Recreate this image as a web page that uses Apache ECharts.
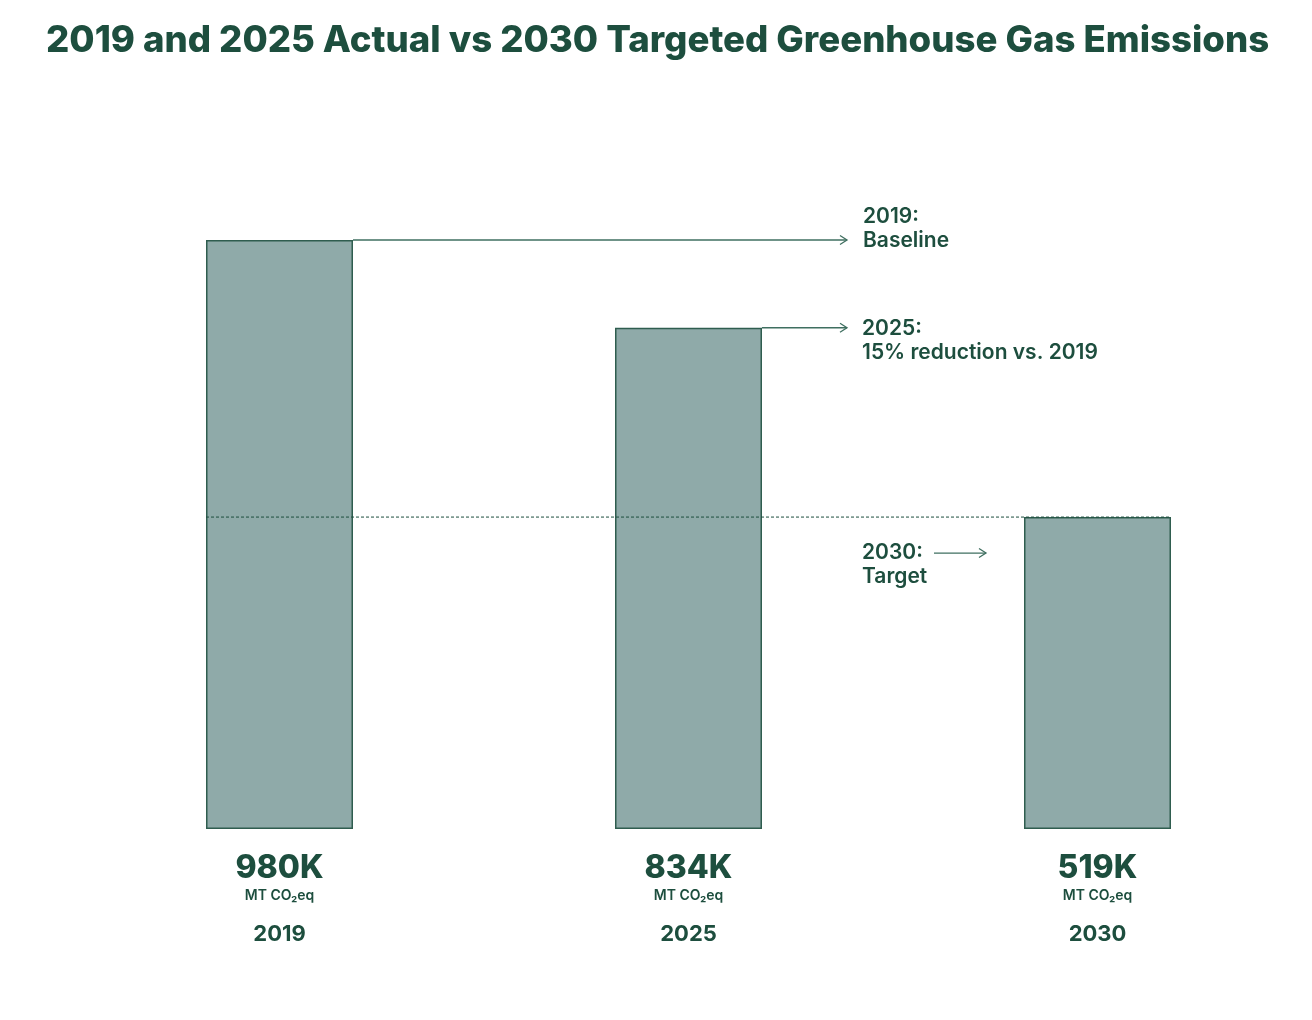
<!DOCTYPE html>
<html>
<head>
<meta charset="utf-8">
<script src="https://cdn.jsdelivr.net/npm/echarts@6/dist/echarts.min.js"></script>
<style>
html,body{margin:0;padding:0;background:#fff;}
#chart{width:1312px;height:1020px;}
</style>
</head>
<body>
<div id="chart"></div>
<script>
const titleText = '2019 and 2025 Actual vs 2030 Targeted Greenhouse Gas Emissions';
const categories = ['2019', '2025', '2030'];
const values = [980, 834, 519];
const valueLabels = ['980K', '834K', '519K'];
const unitLabel = 'MT CO\u2082eq';
const noteTitles = ['2019:', '2025:', '2030:'];
const noteTexts = ['Baseline', '15% reduction vs. 2019', 'Target'];

const DARK = '#1d4e3e';
const LINE = '#3f6f60';
const BAR = '#8faaa9';
const BAR_W = 147;
const FONT = 'Inter, "Noto Sans", sans-serif';

const chart = echarts.init(document.getElementById('chart'));

function arrowHead(tipX, y) {
  return {
    type: 'polyline',
    shape: { points: [[tipX - 7, y - 4.5], [tipX, y], [tipX - 7, y + 4.5]] },
    style: { stroke: LINE, lineWidth: 1.3, fill: null }
  };
}
function txt(x, y, s) {
  return {
    type: 'text',
    style: { x: x, y: y, text: s, fill: DARK, font: '600 21px ' + FONT, textVerticalAlign: 'middle', textAlign: 'left' }
  };
}

const option = {
  backgroundColor: '#fff',
  animation: false,
  title: {
    text: titleText,
    left: 41,
    top: 17,
    textStyle: { color: DARK, fontFamily: FONT, fontWeight: 800, fontSize: 36.6 }
  },
  grid: { left: 75, right: 10, top: 240, bottom: 191, containLabel: false },
  xAxis: {
    type: 'category',
    data: categories,
    axisLine: { show: false },
    axisTick: { show: false },
    axisLabel: {
      margin: 21,
      verticalAlign: 'top',
      formatter: function (val, idx) {
        return '{v|' + valueLabels[idx] + '}\n{u|' + unitLabel + '}\n{y|' + val + '}';
      },
      rich: {
        v: { fontFamily: FONT, fontWeight: 800, fontSize: 32, color: DARK, lineHeight: 36, align: 'center' },
        u: { fontFamily: FONT, fontWeight: 600, fontSize: 14, color: DARK, lineHeight: 20, align: 'center' },
        y: { fontFamily: FONT, fontWeight: 700, fontSize: 22, color: DARK, lineHeight: 56, align: 'center' }
      }
    }
  },
  yAxis: {
    type: 'value',
    min: 0,
    max: 980,
    show: false,
    splitLine: { show: false }
  },
  series: [
    {
      type: 'bar',
      data: values,
      barWidth: BAR_W,
      itemStyle: { color: BAR, borderColor: '#2f5d4f', borderWidth: 1.5 },
      z: 2
    },
    {
      type: 'custom',
      data: [[0]],
      z: 5,
      silent: true,
      renderItem: function (params, api) {
        const half = BAR_W / 2;
        const p0 = api.coord([0, values[0]]);
        const p1 = api.coord([1, values[1]]);
        const p2 = api.coord([2, values[2]]);
        const tipX = 847;
        const textX = 863;
        const children = [];
        // 2019 baseline arrow
        children.push({ type: 'line', shape: { x1: p0[0] + half, y1: p0[1], x2: tipX, y2: p0[1] }, style: { stroke: LINE, lineWidth: 1.3 } });
        children.push(arrowHead(tipX, p0[1]));
        children.push(txt(textX, p0[1] - 23, noteTitles[0]));
        children.push(txt(textX, p0[1] + 1, noteTexts[0]));
        // 2025 arrow
        children.push({ type: 'line', shape: { x1: p1[0] + half, y1: p1[1], x2: tipX, y2: p1[1] }, style: { stroke: LINE, lineWidth: 1.3 } });
        children.push(arrowHead(tipX, p1[1]));
        children.push(txt(textX - 1, p1[1] + 1, noteTitles[1]));
        children.push(txt(textX - 1, p1[1] + 25, noteTexts[1]));
        // 2030 dashed target line
        children.push({ type: 'line', shape: { x1: p0[0] - half, y1: p2[1], x2: p2[0] + half, y2: p2[1] }, style: { stroke: '#1d4e3e', lineWidth: 1, lineDash: [3, 2] } });
        // 2030 label + arrow
        const ty = p2[1] + 36;
        children.push(txt(textX - 1, ty, noteTitles[2]));
        children.push(txt(textX - 1, ty + 24, noteTexts[2]));
        children.push({ type: 'line', shape: { x1: 934, y1: ty, x2: 986, y2: ty }, style: { stroke: LINE, lineWidth: 1.3 } });
        children.push(arrowHead(986, ty));
        return { type: 'group', children: children };
      }
    }
  ]
};
chart.setOption(option);
</script>
</body>
</html>
